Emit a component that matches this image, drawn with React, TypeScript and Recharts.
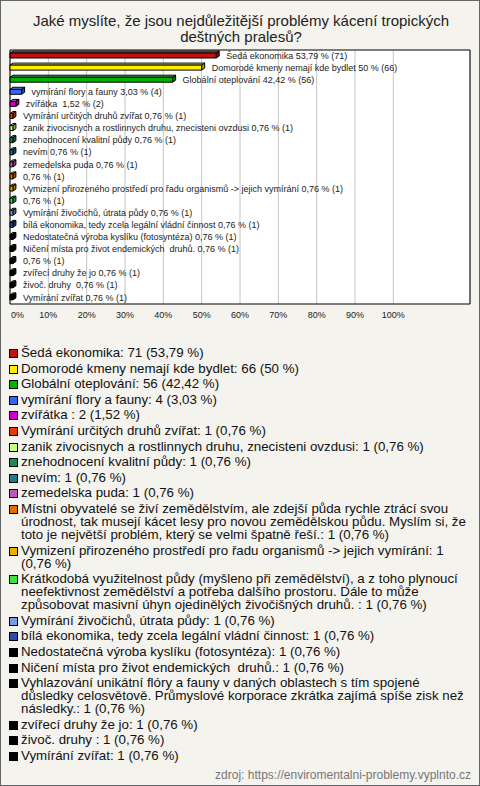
import React from 'react';
import { BarChart, Bar, XAxis, YAxis, CartesianGrid, Cell, LabelList, ReferenceArea } from 'recharts';

const TITLE = 'Jaké myslíte, že jsou nejdůležitější problémy kácení tropických deštných pralesů?';
const SOURCE = 'zdroj: https://enviromentalni-problemy.vyplnto.cz';

// full answer texts (legend)
const names = [
  'Šedá ekonomika',
  'Domorodé kmeny nemají kde bydlet',
  'Globální oteplování',
  'vymírání flory a fauny',
  'zvířátka ',
  'Vymírání určitých druhů zvířat',
  'zanik zivocisnych a rostlinnych druhu, znecisteni ovzdusi',
  'znehodnocení kvalitní půdy',
  'nevím',
  'zemedelska puda',
  'Místni obyvatelé se živí zemědělstvím, ale zdejší půda rychle ztrácí svou úrodnost, tak musejí kácet lesy pro novou zemědělskou půdu. Myslím si, že toto je největší problém, který se velmi špatně řeší.',
  'Vymizení přirozeného prostředí pro řadu organismů -> jejich vymírání',
  'Krátkodobá využitelnost půdy (myšleno při zemědělství), a z toho plynoucí neefektivnost zemědělství a potřeba dalšího prostoru. Dále to může způsobovat masivní úhyn ojedinělých živočišných druhů. ',
  'Vymírání živočichů, útrata půdy',
  'bílá ekonomika, tedy zcela legální vládní činnost',
  'Nedostatečná výroba kyslíku (fotosyntéza)',
  'Ničení místa pro život endemických  druhů.',
  'Vyhlazování unikátní flóry a fauny v daných oblastech s tím spojené důsledky celosvětově. Průmyslové korporace zkrátka zajímá spíše zisk než následky.',
  'zvířecí druhy že jo',
  'živoč. druhy ',
  'Vymírání zvířat',
];

// long answers are left out of the in-chart labels
const hideInChart = [10, 12, 17];

const counts = [71, 66, 56, 4, 2, 1, 1, 1, 1, 1, 1, 1, 1, 1, 1, 1, 1, 1, 1, 1, 1];
const percents = [53.79, 50, 42.42, 3.03, 1.52, 0.76, 0.76, 0.76, 0.76, 0.76, 0.76, 0.76, 0.76, 0.76, 0.76, 0.76, 0.76, 0.76, 0.76, 0.76, 0.76];

const colors = [
  '#c01010', '#ffee00', '#00b400', '#3366ff', '#cc00cc', '#e03c0a', '#ccff88',
  '#1a8a5a', '#1f7a8c', '#b85cb8', '#e07000', '#e8b000', '#40e040', '#7a9ae0',
  '#2c4ab0', '#000000', '#000000', '#000000', '#000000', '#000000', '#000000',
];

const xTicks = [0, 10, 20, 30, 40, 50, 60, 70, 80, 90, 100];

const fmt = (p: number) => String(p).replace('.', ',');

const data = names.map((n, i) => ({
  id: i,
  pct: percents[i],
  label: (hideInChart.includes(i) ? '' : n + ' ') + fmt(percents[i]) + ' % (' + counts[i] + ')',
}));

const FONT = '"Liberation Sans", Arial, sans-serif';
const D = 3; // 3d depth

const lighten = (hex: string, k: number) => {
  const n = parseInt(hex.slice(1), 16);
  const c = [(n >> 16) & 255, (n >> 8) & 255, n & 255].map(v => Math.round(v + (255 - v) * k));
  return `rgb(${c[0]},${c[1]},${c[2]})`;
};
const darken = (hex: string, k: number) => {
  const n = parseInt(hex.slice(1), 16);
  const c = [(n >> 16) & 255, (n >> 8) & 255, n & 255].map(v => Math.round(v * (1 - k)));
  return `rgb(${c[0]},${c[1]},${c[2]})`;
};

const Bar3D = (props: any) => {
  const { x, y, width, height, fill } = props;
  const w = Math.max(width, 1);
  const fy = y - 1;
  return (
    <g stroke="#000" strokeWidth={1} strokeLinejoin="round">
      <polygon points={`${x},${fy} ${x + D},${fy - 2} ${x + w + D},${fy - 2} ${x + w},${fy}`} fill={lighten(fill, 0.35)} />
      <polygon points={`${x + w},${fy} ${x + w + D},${fy - 2} ${x + w + D},${fy + height - 2} ${x + w},${fy + height}`} fill={darken(fill, 0.3)} />
      <rect x={x} y={fy} width={w} height={height} fill={fill} />
    </g>
  );
};

const BarLabel = (props: any) => {
  const { x, y, width, height, value } = props;
  return (
    <text x={x + width + D + 7} y={y - 1 + height / 2} dy="0.35em" fontSize={9} fontFamily={FONT} fill="#222" style={{ whiteSpace: 'pre' }}>
      {value}
    </text>
  );
};

const Tick = (props: any) => {
  const { x, y, payload } = props;
  return (
    <text x={payload.value === 0 ? x + 1 : x} y={y} dy="0.71em" textAnchor={payload.value === 0 ? 'start' : 'middle'} fontSize={9} fontFamily={FONT} fill="#222">
      {payload.value + '%'}
    </text>
  );
};

export default function App() {
  return (
    <div style={{ position: 'absolute', left: 0, top: 0, width: 478, height: 784, background: '#f4f3ee', border: '1px solid #666', fontFamily: FONT, overflow: 'hidden' }}>
      <div style={{ position: 'absolute', left: 30, top: 12, width: 420, textAlign: 'center', fontSize: 15, lineHeight: '16px', color: '#222' }}>
        {TITLE}
      </div>
      <div style={{ position: 'absolute', left: -1, top: -1 }}>
        <BarChart width={480} height={331} data={data} layout="vertical" margin={{ top: 50, right: 10, left: 10, bottom: 7 }} barSize={5}>
          <CartesianGrid horizontal={false} stroke="#c4c4c4" fill="#ffffff" fillOpacity={1} />
          <XAxis type="number" domain={[0, 120]} ticks={xTicks} axisLine={false} tickLine={false} height={20} tick={<Tick />} interval={0} />
          <YAxis type="category" dataKey="id" hide />
          <ReferenceArea x1={0} x2={120} fill="none" stroke="#000" strokeWidth={1} ifOverflow="visible" />
          <Bar dataKey="pct" shape={<Bar3D />} isAnimationActive={false}>
            {data.map((d, i) => <Cell key={i} fill={colors[i]} />)}
            <LabelList dataKey="label" content={<BarLabel />} />
          </Bar>
        </BarChart>
      </div>
      <div style={{ position: 'absolute', left: 8, top: 345, width: 458, fontSize: 13.3, lineHeight: '13px', color: '#111' }}>
        {names.map((n, i) => (
          <div key={i} style={{ display: 'flex', alignItems: 'flex-start', marginBottom: 2.6 }}>
            <span style={{ flex: 'none', width: 7, height: 7, marginTop: 3, marginRight: 3, border: '1px solid #000', background: colors[i] }} />
            <span style={{ whiteSpace: 'pre-wrap' }}>{n + ': ' + counts[i] + ' (' + fmt(percents[i]) + ' %)'}</span>
          </div>
        ))}
      </div>
      <div style={{ position: 'absolute', right: 8, top: 767, fontSize: 12, color: '#777' }}>{SOURCE}</div>
    </div>
  );
}
